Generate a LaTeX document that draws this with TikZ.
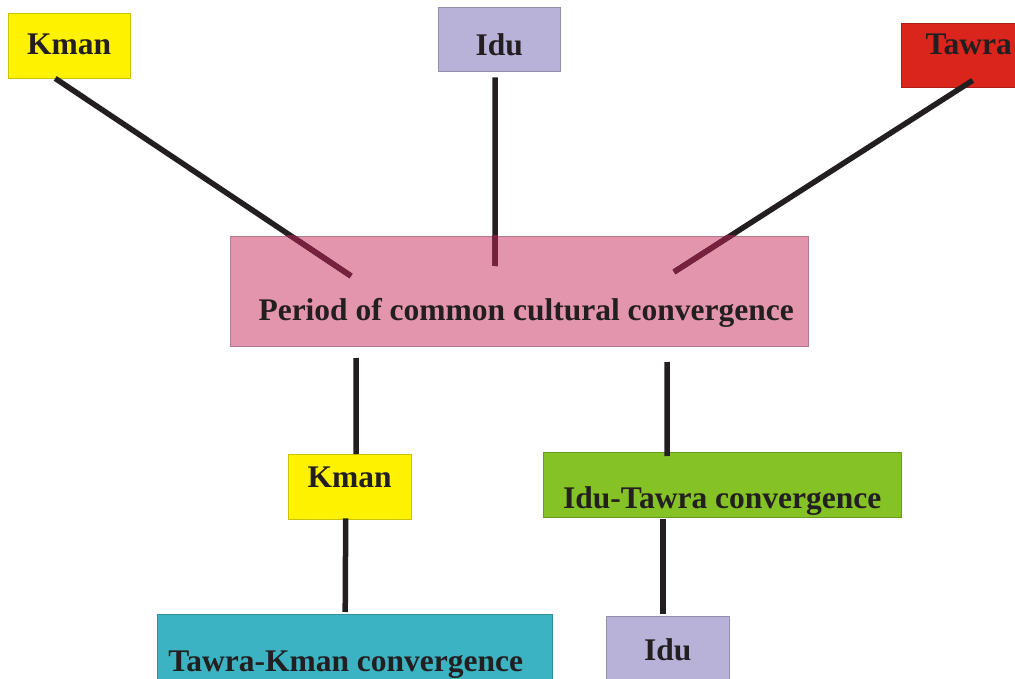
\documentclass[tikz,border=0pt]{standalone}
\usepackage{fontspec}
\setmainfont{Liberation Serif}
\definecolor{ink}{HTML}{231F20}
\definecolor{kmancol}{HTML}{FFF200}
\definecolor{iducol}{HTML}{B9B2D8}
\definecolor{tawracol}{HTML}{DA251D}
\definecolor{periodcol}{HTML}{E495AE}
\definecolor{greencol}{HTML}{85C226}
\definecolor{tealcol}{HTML}{3BB3C3}
\definecolor{maroon}{HTML}{78213F}
\tikzset{
  box/.style={draw=#1!80!black, line width=0.4pt, fill=#1, anchor=north west,
    inner sep=0pt, text=ink, font=\bfseries\fontsize{31.5}{38}\selectfont},
  link/.style={draw=ink, line width=5.5pt}
}
\begin{document}
\begin{tikzpicture}[x=1pt,y=-1pt]
   \useasboundingbox (0,0) rectangle (1015,679);
   \clip (0,0) rectangle (1015,679);
   \node [box=kmancol, minimum width=122, text height=41, text depth=24] (kmanTop) at (8,13) {Kman};
   \node [box=iducol, minimum width=122, text height=48, text depth=16] (iduTop) at (438,7) {Idu};
   \node [box=tawracol, minimum width=135, text height=31, text depth=33] (tawraTop) at (901,23) {Tawra};
   \node [box=periodcol, minimum width=578, text height=84, text depth=25.5] (period) at (230,236) {\kern14pt Period of common cultural convergence};
   \node [box=kmancol, minimum width=123, text height=33, text depth=32] (kmanMid) at (288,454) {Kman};
   \node [box=greencol, minimum width=358, text height=56, text depth=9] (iduTawra) at (543,452) {Idu-Tawra convergence};
   \node [box=tealcol, minimum width=395, text height=57, text depth=13] (tawraKman) at (157,614) {Tawra-Kman convergence\kern18pt};
   \node [box=iducol, minimum width=123, text height=44, text depth=21] (iduBot) at (606,616) {Idu};
   \coordinate (k1) at (351,276);
   \coordinate (i1) at (495,266);
   \coordinate (t1) at (674,272);
   \coordinate (c1) at (356,358);
   \coordinate (c2) at (667,362);
   \draw [link] ([xshift=-14]kmanTop.south) -- (k1);
   \draw [link] ([xshift=-4,yshift=-6]iduTop.south) -- (i1);
   \draw [link] ([xshift=4,yshift=7]tawraTop.south) -- (t1);
   \begin{scope}
      \clip (period.north west) rectangle (period.south east);
      \draw [link, draw=maroon] ([xshift=-14]kmanTop.south) -- (k1);
      \draw [link, draw=maroon] ([xshift=-4,yshift=-6]iduTop.south) -- (i1);
      \draw [link, draw=maroon] ([xshift=4,yshift=7]tawraTop.south) -- (t1);
   \end{scope}
   \draw [link] (c1) -- ([xshift=6.5]kmanMid.north);
   \draw [link] (c2) -- ([xshift=-55,yshift=-4]iduTawra.north);
   \draw [link] ([xshift=-4,yshift=1]kmanMid.south) -- ([xshift=-9.5,yshift=2]tawraKman.north);
   \draw [link] ([xshift=-59,yshift=-2]iduTawra.south) -- ([xshift=-4.5,yshift=2]iduBot.north);
\end{tikzpicture}
\end{document}
